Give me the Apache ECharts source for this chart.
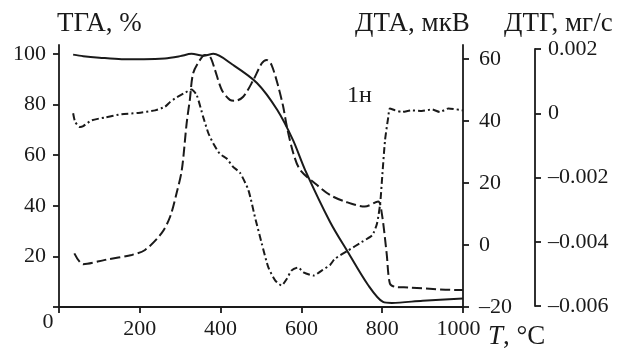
<!DOCTYPE html>
<html>
<head>
<meta charset="utf-8">
<script src="https://cdn.jsdelivr.net/npm/echarts@6/dist/echarts.min.js"></script>
<style>
  html, body { margin: 0; padding: 0; background: #fff; }
  #chart { width: 635px; height: 356px; }
</style>
</head>
<body>
<div id="chart"></div>
<script>
// temperature ticks (°C)
const tempTicks = [0, 200, 400, 600, 800, 1000];
const tgaTicks = [0, 20, 40, 60, 80, 100];
const dtaTicks = [-20, 0, 20, 40, 60];
const dtgTicks = [-0.006, -0.004, -0.002, 0, 0.002];

// ТГА, % — [T, value]
const tgaPoints = [
  [35, 99.7], [60, 99.1], [100, 98.5], [155, 97.9], [210, 97.9], [262, 98.2],
  [300, 99.1], [328, 100], [358, 99.3], [382, 100], [430, 95.7], [490, 88.5],
  [540, 77.9], [579, 66.0], [609, 54.2], [671, 33.6], [715, 21.7], [765, 8.7],
  [802, 2.0], [824, 1.6], [900, 2.5], [1000, 3.4]
];

// ДТА, мкВ — [T, value]
const dtaPoints = [
  [38, -2.7], [60, -6.2], [114, -4.8], [180, -3.2], [213, -1.6], [254, 3.8],
  [275, 9.1], [291, 16.7], [304, 24.2], [316, 39.3], [324, 47.0], [332, 55.4],
  [349, 59.7], [361, 61.3], [374, 60.7], [386, 56.5], [403, 50.0], [423, 46.8],
  [436, 46.5], [456, 47.8], [481, 53.2], [502, 58.6], [514, 59.7], [526, 58.1],
  [543, 51.0], [555, 44.6], [564, 38.2], [580, 29.6], [597, 24.2], [638, 19.4],
  [671, 16.1], [708, 14.0], [757, 12.4], [790, 14.0], [799, 10.2], [811, -2.7],
  [819, -12.4], [832, -13.5], [864, -13.7], [988, -14.5], [1000, -14.5]
];

// ДТГ, мг/с — [T, value]
const dtgPoints = [
  [35, 0], [40, -0.00027], [52, -0.00043], [60, -0.0004], [81, -0.00022],
  [114, -0.00013], [155, -0.00003], [196, 0.00001], [238, 0.00009], [262, 0.0002],
  [275, 0.00035], [287, 0.00046], [308, 0.00061], [328, 0.00074], [341, 0.00056],
  [357, -0.00012], [370, -0.00063], [382, -0.00094], [398, -0.00126], [415, -0.00141],
  [431, -0.00167], [448, -0.00185], [469, -0.0024], [485, -0.00323], [502, -0.00406],
  [518, -0.00479], [535, -0.0052], [551, -0.00536], [564, -0.00515], [576, -0.00489],
  [592, -0.0048], [605, -0.00495], [630, -0.00505], [651, -0.00489], [671, -0.00472],
  [683, -0.00453], [716, -0.00427], [749, -0.00401], [775, -0.0038], [787, -0.00344],
  [795, -0.00281], [800, -0.00198], [807, -0.00084], [815, -0.00012], [819, 0.00015],
  [832, 0.00009], [848, 0.00004], [873, 0.00009], [898, 0.00007], [923, 0.00012],
  [943, 0.00004], [964, 0.00015], [1000, 0.00009]
];

const ink = '#1a1a1a';
const serif = 'Liberation Serif';

const fmtSigned = (v, digits) => {
  if (v === 0) return '0';
  const s = Math.abs(v).toFixed(digits);
  return v < 0 ? '\u2013' + s : s;
};

const chart = echarts.init(document.getElementById('chart'));

const axisLine = { show: true, onZero: false, lineStyle: { color: ink, width: 1.8 } };
const tick = (vals) => ({
  show: true, inside: false, length: 6,
  lineStyle: { color: ink, width: 1.8 },
  customValues: vals
});

const option = {
  backgroundColor: '#fff',
  animation: false,
  textStyle: { fontFamily: serif },
  grid: [
    { left: 59, right: 172, top: 45, bottom: 49 },
    { left: 59, right: 172, top: 49, bottom: 50 }
  ],
  xAxis: [{
    type: 'value',
    gridIndex: 0,
    min: 0,
    max: 1000,
    interval: 200,
    axisLine: axisLine,
    axisTick: tick(tempTicks),
    splitLine: { show: false },
    axisLabel: {
      customValues: tempTicks.slice(1),
      color: ink,
      fontFamily: serif,
      fontSize: 22,
      margin: 11,
      // last label sits a bit left of its tick, next to the axis name
      formatter: (v) => v === 1000 ? '{r|1000}' : String(v),
      rich: { r: { fontFamily: serif, fontSize: 22, color: ink, padding: [0, 9, 0, 0] } }
    }
  }, {
    type: 'value',
    gridIndex: 1,
    min: 0,
    max: 1000,
    show: false
  }],
  yAxis: [{
    // ТГА
    type: 'value',
    gridIndex: 0,
    position: 'left',
    min: 0,
    max: 103.5,
    interval: 20,
    axisLine: axisLine,
    axisTick: tick(tgaTicks),
    splitLine: { show: false },
    axisLabel: {
      customValues: tgaTicks.slice(1),
      color: ink,
      fontFamily: serif,
      fontSize: 22,
      margin: 13,
      formatter: (v) => String(v)
    }
  }, {
    // ДТА
    type: 'value',
    gridIndex: 0,
    position: 'right',
    min: -20,
    max: 64.5,
    interval: 20,
    axisLine: axisLine,
    axisTick: tick(dtaTicks),
    splitLine: { show: false },
    axisLabel: {
      customValues: dtaTicks,
      color: ink,
      fontFamily: serif,
      fontSize: 22,
      margin: 16,
      formatter: (v) => fmtSigned(v, 0)
    }
  }, {
    // ДТГ
    type: 'value',
    gridIndex: 1,
    position: 'right',
    offset: 72,
    min: -0.006,
    max: 0.002,
    interval: 0.002,
    axisLine: axisLine,
    axisTick: tick(dtgTicks),
    splitLine: { show: false },
    axisLabel: {
      customValues: dtgTicks,
      color: ink,
      fontFamily: serif,
      fontSize: 22,
      margin: 13,
      formatter: (v) => fmtSigned(Math.round(v * 1000) / 1000, 3)
    }
  }],
  series: [{
    name: 'ТГА',
    type: 'line',
    xAxisIndex: 0,
    yAxisIndex: 0,
    data: tgaPoints,
    showSymbol: false,
    smooth: 0.3,
    lineStyle: { color: ink, width: 2 }
  }, {
    name: 'ДТА',
    type: 'line',
    xAxisIndex: 0,
    yAxisIndex: 1,
    data: dtaPoints,
    showSymbol: false,
    smooth: 0.3,
    lineStyle: { color: ink, width: 2, type: [10, 4] }
  }, {
    name: 'ДТГ',
    type: 'line',
    xAxisIndex: 1,
    yAxisIndex: 2,
    data: dtgPoints,
    showSymbol: false,
    smooth: 0.2,
    lineStyle: { color: ink, width: 2, type: [7, 3, 2, 3] }
  }],
  graphic: [
    { type: 'text', x: 57, y: 24, style: { text: 'ТГА, %', fontFamily: serif, fontSize: 27, fill: ink, verticalAlign: 'middle' } },
    { type: 'text', x: 355, y: 24, style: { text: 'ДТА, мкВ', fontFamily: serif, fontSize: 27, fill: ink, verticalAlign: 'middle' } },
    { type: 'text', x: 504, y: 24, style: { text: 'ДТГ, мг/с', fontFamily: serif, fontSize: 27, fill: ink, verticalAlign: 'middle' } },
    { type: 'text', x: 347, y: 96, style: { text: '1н', fontFamily: serif, fontSize: 24, fill: ink, verticalAlign: 'middle' } },
    { type: 'text', x: 48, y: 322, style: { text: '0', fontFamily: serif, fontSize: 22, fill: ink, align: 'center', verticalAlign: 'middle' } },
    {
      type: 'text', x: 488, y: 337,
      style: {
        text: '{i|T}, °C',
        fontFamily: serif,
        fontSize: 27,
        fill: ink,
        verticalAlign: 'middle',
        rich: { i: { fontStyle: 'italic', fontFamily: serif, fontSize: 27, fill: ink } }
      }
    }
  ]
};

chart.setOption(option);
</script>
</body>
</html>
